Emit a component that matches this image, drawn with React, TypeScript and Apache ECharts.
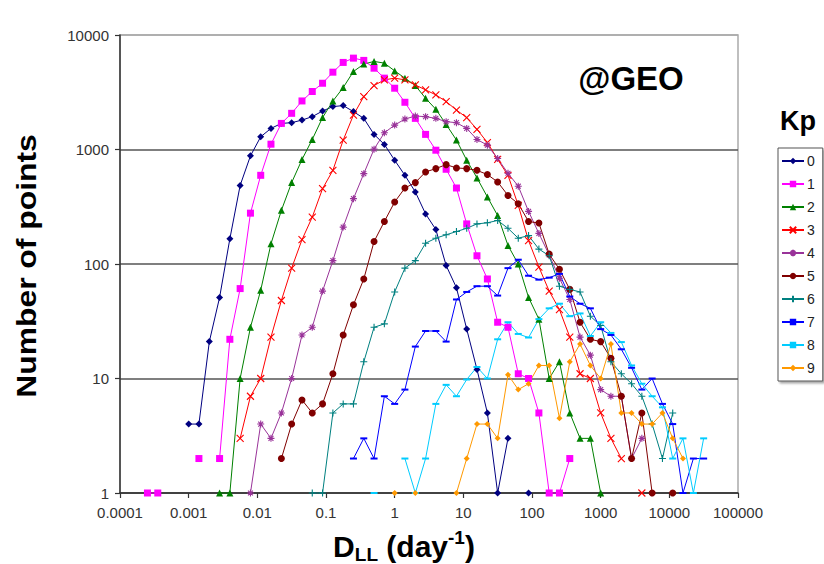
import React, { useEffect, useRef } from "react";
import * as echarts from "echarts";

const _ = null;
const N = (n: number) => Array(n).fill(null);

// D_LL bin centres (day^-1)
const DLL_BINS = [
  0.000251, 0.000355, 0.000501, 0.000708, 0.001, 0.00141, 0.002, 0.00282, 0.00398, 0.00562,
  0.00794, 0.0112, 0.0158, 0.0224, 0.0316, 0.0447, 0.0631, 0.0891, 0.126, 0.178,
  0.251, 0.355, 0.501, 0.708, 1, 1.41, 2, 2.82, 3.98, 5.62,
  7.94, 11.2, 15.8, 22.4, 31.6, 44.7, 63.1, 89.1, 126, 178,
  251, 355, 501, 708, 1000, 1410, 2000, 2820, 3980, 5620,
  7940, 11200, 15800, 22400, 31600,
];

const KP_LABELS = ["0", "1", "2", "3", "4", "5", "6", "7", "8", "9"];
const Y_TICKS = [1, 10, 100, 1000, 10000];
const X_TICKS = [0.0001, 0.001, 0.01, 0.1, 1, 10, 100, 1000, 10000, 100000];

const KP0 = [...N(4), 4, 4, 21, 51, 166, 486, 880, 1292, 1528, 1690, 1715, 1807, 1936, 2168, 2370, 2418, 2143, 1870, 1355, 1107, 806, 595, 426, 274, 200, 97, 62, 27, 12, 5, 1, 3, _, 1, ...N(17)];
const KP1 = [1, 1, _, _, _, 2, _, 2, 22, 61, 278, 595, 1113, 1690, 2070, 2655, 3210, 3790, 4735, 5760, 6280, 6000, 5130, 4200, 3430, 2585, 1870, 1355, 986, 672, 461, 224, 118, 74, 31, 28, 11, 10, 5, 1, 1, 2, ...N(13)];
const KP2 = [...N(7), 1, 1, 10, 28, 59, 150, 294, 514, 817, 1224, 1900, 2650, 3475, 4800, 5570, 5880, 5680, 4860, 4200, 3620, 2800, 2244, 1656, 1208, 806, 565, 385, 265, 145, 100, 51, 33, 10, 14, 5, 3, 3, 1, ...N(10)];
const KP3 = [...N(9), 3, 7, 10, 23, 48, 92, 163, 257, 455, 658, 1208, 2000, 2900, 3620, 4055, 4200, 4055, 3660, 3315, 3000, 2620, 2212, 1897, 1500, 1150, 820, 595, 325, 160, 94, 58, 40, 23, 11, 10, 5, 3, 2, _, 1, ...N(6)];
const KP4 = [...N(10), 1, 4, 3, 5, 10, 24, 28, 58, 107, 210, 372, 615, 1007, 1400, 1633, 1845, 1960, 1936, 1870, 1750, 1715, 1528, 1224, 1091, 834, 620, 478, 288, 185, 120, 75, 49, 23, 16, 8, 7, 7, 2, 3, ...N(6)];
const KP5 = [...N(13), 2, 4, 6.5, 5, 6, 11, 24, 44, 74, 157, 235, 348, 461, 514, 637, 681, 738, 690, 681, 658, 604, 521, 397, 336, 235, 228, 122, 90, 60, 31, 22, 21, 15, 7, 2, 5, 1, _, 1, ...N(3)];
const KP6 = [...N(16), 1, 1, 5, 6, 6, 14, 28, 30, 57, 92, 107, 152, 168, 180, 192, 205, 224, 229, 240, 205, 168, 177, 135, 118, 64, 60, 57, 35, 29, 14, 11, 9, 7, 4, 2, 5, ...N(3)];
const KP7 = [...N(20), 2, 3, 2, 7, 6, 8, 19, 26, 26, 21, 49, 57, 64, 64, 53, 92, 109, 79, 73, 76, 82, 52, 45, 41, 27, 24, 18, 12.4, 8, 10, 6, 4, 1, 2, 2];
const KP8 = [...N(22), 1, _, _, 2, 1, 2, 6, 8.8, 7, 9.8, 12.6, 10, 22, 31, 24.5, 22.8, 33, 41, 45, 35, 37, 23.5, 31, 25, 20.8, 13, 9, 7, 5.6, 2, 3, 1, 3];
const KP9 = [...N(24), 1, _, 1, _, _, _, 1, 2, 4, 4, 3, 10.8, 8, 9, 13, 13, 4.5, 14, 20, 13, 10, 20, 5, 5, 4, 4, 5, 3, 2, _, _];

const KP_VALUES = [KP0, KP1, KP2, KP3, KP4, KP5, KP6, KP7, KP8, KP9];
const KP_COLORS = ["#000080", "#FF00FF", "#008000", "#FF0000", "#993399", "#800000", "#008080", "#0000FF", "#00CCFF", "#FF9900"];

const SYM_X = "path://M0,0L10,10M10,0L0,10";
const SYM_STAR = "path://M5,0L5,10M0,5L10,5M1.5,1.5L8.5,8.5M8.5,1.5L1.5,8.5";
const SYM_PLUS = "path://M5,0L5,10M0,5L10,5";

const KP_SYMBOLS: any[] = [
  { symbol: "diamond", size: 7, stroke: false },
  { symbol: "rect", size: 7, stroke: false },
  { symbol: "triangle", size: 7, stroke: false },
  { symbol: SYM_X, size: 7, stroke: true },
  { symbol: SYM_STAR, size: 7, stroke: true },
  { symbol: "circle", size: 7, stroke: false },
  { symbol: SYM_PLUS, size: 7, stroke: true },
  { symbol: "rect", size: [7, 2], stroke: false },
  { symbol: "rect", size: [7, 2], stroke: false },
  { symbol: "diamond", size: 6, stroke: false },
];

const FONT = '"Liberation Sans", Arial, Helvetica, sans-serif';

function fmtPow(v: number) {
  const e = Math.round(Math.log10(v));
  return e < 0 ? Math.pow(10, e).toFixed(-e) : String(Math.round(Math.pow(10, e)));
}

export default function App() {
  const ref = useRef<HTMLDivElement>(null);
  useEffect(() => {
    if (!ref.current) return;
    const chart = echarts.init(ref.current, null, { renderer: "svg" });
    const series = KP_VALUES.map((vals, s) => {
      const sym = KP_SYMBOLS[s];
      const c = KP_COLORS[s];
      return {
        type: "line",
        name: KP_LABELS[s],
        data: DLL_BINS.map((x, i) => [x, vals[i] == null ? "-" : vals[i]]),
        symbol: sym.symbol,
        symbolSize: sym.size,
        showSymbol: true,
        showAllSymbol: true,
        connectNulls: false,
        clip: false,
        lineStyle: { color: c, width: 1 },
        itemStyle: { color: c, borderColor: c, borderWidth: sym.stroke ? 1.1 : 0 },
        emphasis: { disabled: true },
      };
    });
    const option: any = {
      animation: false,
      backgroundColor: "#fff",
      textStyle: { fontFamily: FONT },
      grid: {
        left: 120, top: 35, width: 618, height: 458,
        show: true, borderColor: "#aaaaaa", borderWidth: 1.5, backgroundColor: "transparent",
      },
      xAxis: {
        type: "log", logBase: 10, min: X_TICKS[0], max: X_TICKS[X_TICKS.length - 1],
        axisLine: { show: true, lineStyle: { color: "#333", width: 1.5 } },
        axisTick: { show: true, inside: false, length: 5, lineStyle: { color: "#333", width: 1.2 } },
        minorTick: { show: false },
        splitLine: { show: false },
        axisLabel: { formatter: fmtPow, fontSize: 15, color: "#333", margin: 12, fontFamily: FONT },
      },
      yAxis: {
        type: "log", logBase: 10, min: Y_TICKS[0], max: Y_TICKS[Y_TICKS.length - 1],
        axisLine: { show: true, lineStyle: { color: "#333", width: 1.5 } },
        axisTick: { show: true, inside: false, length: 5, lineStyle: { color: "#333", width: 1.2 } },
        minorTick: { show: false },
        splitLine: { show: true, lineStyle: { color: ["#555", "#555", "#555", "#555", "#aaaaaa"], width: 1.5 } },
        axisLabel: { formatter: fmtPow, fontSize: 15, color: "#333", margin: 11, fontFamily: FONT },
      },
      legend: {
        data: KP_LABELS,
        orient: "vertical",
        left: 778, top: 148,
        itemWidth: 22, itemHeight: 8, itemGap: 7,
        padding: [5, 8, 5, 3],
        borderColor: "#555", borderWidth: 1, backgroundColor: "#fff",
        shadowColor: "rgba(0,0,0,0.35)", shadowOffsetX: 2, shadowOffsetY: 2, shadowBlur: 2,
        textStyle: { fontSize: 14, color: "#222", lineHeight: 16, fontFamily: FONT, padding: [0, 0, 0, -2] },
      },
      series,
      graphic: [
        {
          type: "text", x: 631, y: 78,
          style: { text: "@GEO", font: `bold 33px ${FONT}`, fill: "#000", align: "center", verticalAlign: "middle" },
        },
        {
          type: "text", x: 798, y: 121,
          style: { text: "Kp", font: `bold 27px ${FONT}`, fill: "#000", align: "center", verticalAlign: "middle" },
        },
        {
          type: "text", x: 26, y: 266, rotation: Math.PI / 2, scaleX: 1.18,
          style: { text: "Number of points", font: `bold 27px ${FONT}`, fill: "#000", align: "center", verticalAlign: "middle" },
        },
        {
          type: "text", x: 404, y: 546,
          style: {
            text: "{a|D}{b|LL}{a| (day}{c|-1}{a|)}",
            fill: "#000", align: "center", verticalAlign: "middle",
            rich: {
              a: { fontSize: 30, fontWeight: "bold", fontFamily: FONT, lineHeight: 36, fill: "#000" },
              b: { fontSize: 19, fontWeight: "bold", fontFamily: FONT, lineHeight: 19, verticalAlign: "bottom", fill: "#000" },
              c: { fontSize: 19, fontWeight: "bold", fontFamily: FONT, lineHeight: 19, verticalAlign: "top", fill: "#000" },
            },
          },
        },
      ],
    };
    chart.setOption(option);
    return () => chart.dispose();
  }, []);
  return <div ref={ref} style={{ position: "absolute", left: 0, top: 0, width: 824, height: 564 }} />;
}
